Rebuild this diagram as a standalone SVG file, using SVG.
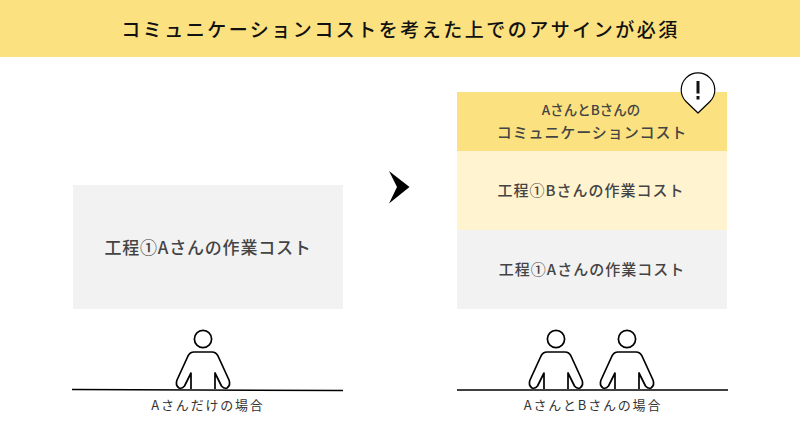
<svg xmlns="http://www.w3.org/2000/svg" width="800" height="430" viewBox="0 0 800 430">
<style>
text{font-family:"Noto Sans CJK JP","Noto Sans",sans-serif;text-anchor:middle;fill:#444;font-weight:500}
.t{font-size:15px;letter-spacing:1px}
.c{font-size:13px;letter-spacing:1.8px;font-weight:400;fill:#333}
.p{fill:#fff;stroke:#000;stroke-width:1.700;stroke-linejoin:round}
.l{stroke:#000;stroke-width:1.500;fill:none}
</style>
<defs>
<g id="person">
<circle cx="0" cy="-51" r="8.600" class="p"/>
<path class="p" d="M-12-1V-17L-18.500-4Q-21-1-24-2Q-28-5-26-10L-15-34Q-13-38-9-38H9Q13-38 15-34L26-10Q28-5 24-2Q21-1 18.500-4L12-17V-1"/>
</g>
</defs>
<rect width="800" height="57" fill="#fbe17f"/>
<text x="400.500" y="36.500" font-size="19" style="letter-spacing:2.500px;fill:#111;font-weight:500">コミュニケーションコストを考えた上でのアサインが必須</text>
<g id="left-cost"><rect x="73" y="185" width="270" height="124" fill="#f2f2f2"/><text style="font-size:17px;letter-spacing:.8px" x="208" y="254">工程①Aさんの作業コスト</text></g>
<g id="comm-cost"><rect x="457" y="92" width="270" height="59" fill="#fbe17f"/><text x="591" y="115" font-size="13.500">AさんとBさんの</text><text style="font-size:15px;letter-spacing:.9px" x="592" y="138">コミュニケーションコスト</text></g>
<g id="b-cost"><rect x="457" y="151" width="270" height="79" fill="#fff3d0"/><text class="t" x="591" y="196">工程①Bさんの作業コスト</text></g>
<g id="a-cost"><rect x="457" y="230" width="270" height="79" fill="#f2f2f2"/><text class="t" x="592" y="275">工程①Aさんの作業コスト</text></g>
<g id="alert"><path d="M698 113L686 101.500A16.800 16.800 0 1 1 710 101.500Z" fill="#fff" stroke="#000" stroke-width="1.200" stroke-linejoin="round"/><rect x="696.500" y="81" width="3" height="12.500" fill="#111"/><rect x="696.500" y="96" width="3" height="3.500" fill="#111"/></g>
<g id="arrow"><path d="M389 171L409.500 187L389 203.500L397 187Z" fill="#000"/></g>
<g id="left-scene"><path d="M72 389.500L343 390.500" class="l"/><use href="#person" transform="translate(203 390)"/><text class="c" x="208" y="410">Aさんだけの場合</text></g>
<g id="right-scene"><path d="M457 390H728" class="l"/><use href="#person" transform="translate(556 390)"/><use href="#person" transform="translate(627 390)"/><text class="c" x="593" y="410">AさんとBさんの場合</text></g>
</svg>
